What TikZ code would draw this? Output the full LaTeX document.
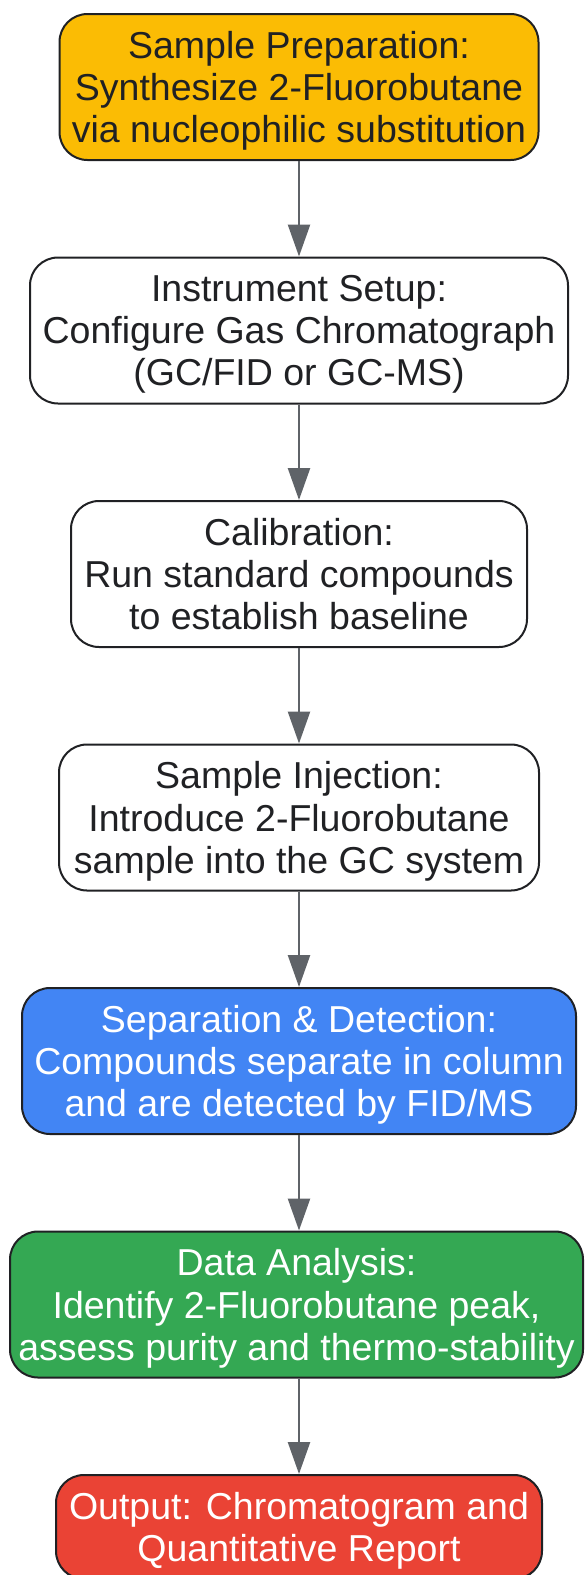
\documentclass[tikz,border=0pt]{standalone}
\usepackage{fontspec}
\setmainfont{Liberation Sans}
\usetikzlibrary{positioning,arrows.meta}
\definecolor{boxline}{HTML}{202124}
\definecolor{darktext}{HTML}{202124}
\definecolor{arrowgray}{HTML}{5F6368}
\definecolor{prepfill}{HTML}{FBBC04}
\definecolor{sepfill}{HTML}{4285F4}
\definecolor{anafill}{HTML}{34A853}
\definecolor{outfill}{HTML}{EA4335}
\begin{document}
\begin{tikzpicture}[x=1pt,y=1pt,node distance=95.5pt,
    box/.style={draw=boxline,line width=2pt,rounded corners=28pt,fill=white,
      minimum height=146pt,align=center,text=darktext,text depth=-1pt,
      font=\fontsize{37.5}{42.2}\selectfont},
    flow/.style={draw=arrowgray,line width=2.5pt,-{Triangle[length=32pt,width=22pt]}}]
    \useasboundingbox (0,0) rectangle (585,-1575);
    \node[box,fill=prepfill,minimum width=479pt,anchor=north] (prep) at (299,-13)
      {Sample Preparation:\\Synthesize 2-Fluorobutane\\via nucleophilic substitution};
    \node[box,minimum width=538pt,below=of prep] (setup)
      {Instrument Setup:\\Configure Gas Chromatograph\\(GC/FID or GC-MS)};
    \node[box,minimum width=456pt,below=of setup] (calib)
      {Calibration:\\Run standard compounds\\to establish baseline};
    \node[box,minimum width=480pt,below=of calib] (inject)
      {Sample Injection:\\Introduce 2-Fluorobutane\\sample into the GC system};
    \node[box,fill=sepfill,text=white,minimum width=554pt,below=of inject] (sep)
      {Separation \& Detection:\\Compounds separate in column\\and are detected by FID/MS};
    \node[box,fill=anafill,text=white,minimum width=573pt,below=of sep,xshift=-2.5pt] (ana)
      {Data Analysis:\\Identify 2-Fluorobutane peak,\\assess purity and thermo-stability};
    \node[box,fill=outfill,text=white,minimum width=486pt,minimum height=104pt,
      below=of ana,xshift=2.5pt] (out)
      {Output: Chromatogram and\\Quantitative Report};
    \foreach \a/\b in {prep/setup,setup/calib,calib/inject,inject/sep,sep/ana,ana/out}
    \draw[flow] (prep.south |- \a.south) -- (prep.south |- \b.north);
\end{tikzpicture}
\end{document}
